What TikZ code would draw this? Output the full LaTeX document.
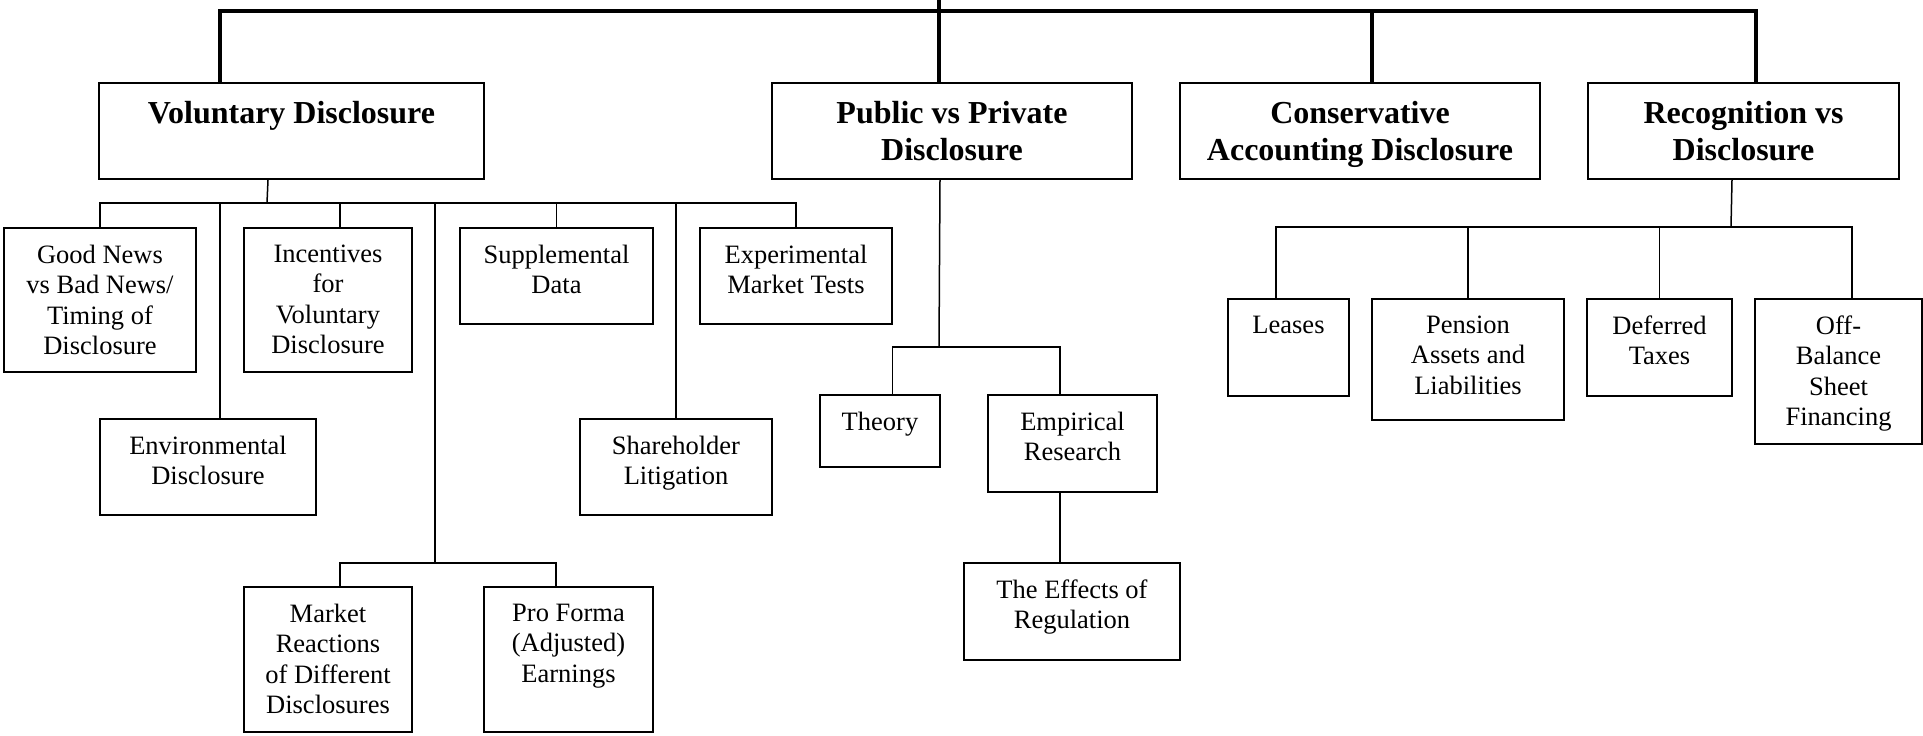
\documentclass[tikz,border=0pt]{standalone}
\usepackage{fontspec}
\setmainfont{Liberation Serif}
\usepackage{tikz}

\begin{document}
\begin{tikzpicture}[
    x=1pt, y=-1pt,
    topic/.style={draw, line width=2pt, anchor=north west, inner sep=0pt},
    heading/.style={anchor=north, align=center, inner sep=0pt, font=\fontsize{32}{37}\selectfont\bfseries},
    boxtext/.style={anchor=north, align=center, inner sep=0pt, font=\fontsize{26.5}{30.5}\selectfont},
    trunk/.style={line width=4pt},
    link/.style={line width=1.5pt},
]
    \useasboundingbox (0,0) rectangle (1923,736);

    \node[topic, minimum width=385pt, minimum height=96pt] (vol) at (98,82) {};
    \node[topic, minimum width=360pt, minimum height=96pt] (pub) at (771,82) {};
    \node[topic, minimum width=360pt, minimum height=96pt] (con) at (1179,82) {};
    \node[topic, minimum width=311pt, minimum height=96pt] (rec) at (1587,82) {};

    \node[topic, minimum width=192pt, minimum height=144pt] (good) at (3,227) {};
    \node[topic, minimum width=168pt, minimum height=144pt] (incent) at (243,227) {};
    \node[topic, minimum width=193pt, minimum height=96pt] (supp) at (459,227) {};
    \node[topic, minimum width=192pt, minimum height=96pt] (exper) at (699,227) {};
    \node[topic, minimum width=216pt, minimum height=96pt] (env) at (99,418) {};
    \node[topic, minimum width=192pt, minimum height=96pt] (share) at (579,418) {};
    \node[topic, minimum width=168pt, minimum height=145pt] (market) at (243,586) {};
    \node[topic, minimum width=169pt, minimum height=145pt] (proforma) at (483,586) {};

    \node[topic, minimum width=120pt, minimum height=72pt] (theory) at (819,394) {};
    \node[topic, minimum width=169pt, minimum height=97pt] (empir) at (987,394) {};
    \node[topic, minimum width=216pt, minimum height=97pt] (effects) at (963,562) {};

    \node[topic, minimum width=121pt, minimum height=97pt] (lease) at (1227,298) {};
    \node[topic, minimum width=192pt, minimum height=121pt] (pension) at (1371,298) {};
    \node[topic, minimum width=145pt, minimum height=97pt] (deferred) at (1586,298) {};
    \node[topic, minimum width=167pt, minimum height=145pt] (offbal) at (1754,298) {};

    \node[heading] (vol-t) at ([yshift=-19.5pt]vol.north) {Voluntary Disclosure};
    \node[heading] (pub-t) at ([yshift=-19.5pt]pub.north) {Public vs Private\\Disclosure};
    \node[heading] (con-t) at ([yshift=-19.5pt]con.north) {Conservative\\Accounting Disclosure};
    \node[heading] (rec-t) at ([yshift=-19.5pt]rec.north) {Recognition vs\\Disclosure};

    \node[boxtext] (good-t) at ([yshift=-17.5pt]good.north) {Good News\\vs Bad News/\\Timing of\\Disclosure};
    \node[boxtext] (incent-t) at ([yshift=-17.5pt]incent.north) {Incentives\\for\\Voluntary\\Disclosure};
    \node[boxtext] (supp-t) at ([yshift=-17.5pt]supp.north) {Supplemental\\Data};
    \node[boxtext] (exper-t) at ([yshift=-17.5pt]exper.north) {Experimental\\Market Tests};
    \node[boxtext] (env-t) at ([yshift=-17.5pt]env.north) {Environmental\\Disclosure};
    \node[boxtext] (share-t) at ([yshift=-17.5pt]share.north) {Shareholder\\Litigation};
    \node[boxtext] (market-t) at ([yshift=-17.5pt]market.north) {Market\\Reactions\\of Different\\Disclosures};
    \node[boxtext] (proforma-t) at ([yshift=-17.5pt]proforma.north) {Pro Forma\\(Adjusted)\\Earnings};
    \node[boxtext] (theory-t) at ([yshift=-17.5pt]theory.north) {Theory};
    \node[boxtext] (empir-t) at ([yshift=-17.5pt]empir.north) {Empirical\\Research};
    \node[boxtext] (effects-t) at ([yshift=-17.5pt]effects.north) {The Effects of\\Regulation};
    \node[boxtext] (lease-t) at ([yshift=-17.5pt]lease.north) {Leases};
    \node[boxtext] (pension-t) at ([yshift=-17.5pt]pension.north) {Pension\\Assets and\\Liabilities};
    \node[boxtext] (deferred-t) at ([yshift=-17.5pt]deferred.north) {Deferred\\Taxes};
    \node[boxtext] (offbal-t) at ([yshift=-17.5pt]offbal.north) {Off-\\Balance\\Sheet\\Financing};

    \coordinate (root) at (939,0);
    \coordinate (bar) at (939,11);
    \coordinate (vbus) at (267,203);
    \coordinate (mbus) at (435,563);
    \coordinate (pbus) at (939,347);
    \coordinate (rbus) at (1731,227);

    \draw[trunk] ([xshift=-71.5pt]vol.north) |- (bar) -| ([xshift=12.5pt]rec.north);
    \draw[trunk] (root) -- (root |- pub.north);
    \draw[trunk] ([xshift=12pt]con.north |- bar) -- ([xshift=12pt]con.north);

    \draw[link] ([xshift=-23.5pt]vol.south) -- (vbus);
    \draw[link] (good.north) |- (exper.north |- vbus) -- (exper.north);
    \foreach \n/\dx in {incent/12, env/12, supp/0, share/0}
        \draw[link] ([xshift=\dx pt]\n.north) -- ([xshift=\dx pt]\n.north |- vbus);
    \draw[link] (mbus |- vbus) -- (mbus);
    \draw[link] ([xshift=12pt]market.north) |- (mbus) -| ([xshift=-12.5pt]proforma.north);

    \draw[link] ([xshift=-12pt]pub.south) -- (pbus);
    \draw[link] ([xshift=12.5pt]theory.north) |- (pbus) -| ([xshift=-12.5pt]empir.north);
    \draw[link] ([xshift=-12.5pt]empir.south) -- ([xshift=-12pt]effects.north);

    \draw[link] ([xshift=-11.5pt]rec.south) -- (rbus);
    \draw[link] ([xshift=-12.5pt]lease.north) |- (rbus) -| ([xshift=13.5pt]offbal.north);
    \draw[link] (pension.north) -- (pension.north |- rbus);
    \draw[link] (deferred.north) -- (deferred.north |- rbus);
\end{tikzpicture}
\end{document}
